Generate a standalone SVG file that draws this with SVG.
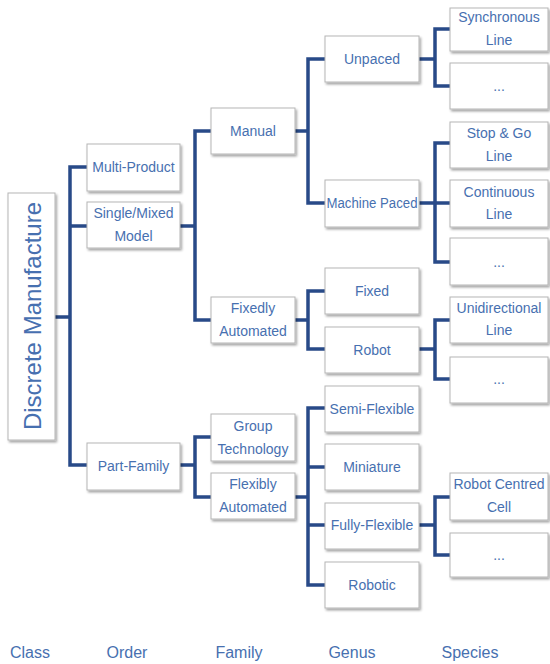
<svg xmlns="http://www.w3.org/2000/svg" width="550" height="664" viewBox="0 0 550 664">
<defs>
<filter id="sh" x="-10%" y="-10%" width="125%" height="130%">
<feDropShadow dx="1.5" dy="2" stdDeviation="1.2" flood-color="#000" flood-opacity="0.35"/>
</filter>
<style>
.b{fill:#fff;stroke:#b5b5b5;stroke-width:1;filter:url(#sh)}
.t{font-family:"Liberation Sans",Arial,sans-serif;font-size:14px;fill:#4770b0;text-anchor:middle}
.big{font-size:24px}
.ax{font-size:16px}
.c{fill:none;stroke:#284a88;stroke-width:3.5;stroke-linejoin:miter}
</style>
</defs>
<rect width="550" height="664" fill="#fff"/>
<g id="connectors">
<path class="c" d="M55,317H70M87,167H70V465H87M70,226H87"/>
<path class="c" d="M180,226H195M211,131H195V320H211"/>
<path class="c" d="M295,131H308M325,59H308V203H325"/>
<path class="c" d="M295,320H308M325,291H308V349H325"/>
<path class="c" d="M180,465H195M211,437H195V497H211"/>
<path class="c" d="M295,497H308M325,408H308V585H325M308,467H325M308,525H325"/>
<path class="c" d="M419,59H435M450,29H435V86H450"/>
<path class="c" d="M419,203H450M450,143H435V262H450"/>
<path class="c" d="M419,349H435M450,320H435V379H450"/>
<path class="c" d="M419,525H435M450,497H435V555H450"/>
</g>
<g id="discrete"><rect class="b" x="8" y="193" width="47" height="247"/><text class="t big" transform="translate(41,316) rotate(-90)">Discrete Manufacture</text></g>
<g id="multiproduct"><rect class="b" x="87" y="144" width="93" height="47"/><text class="t" x="133.5" y="172">Multi-Product</text></g>
<g id="singlemixed"><rect class="b" x="87" y="202" width="93" height="46"/><text class="t" x="133.5" y="218">Single/Mixed</text><text class="t" x="133.5" y="241">Model</text></g>
<g id="partfamily"><rect class="b" x="87" y="443" width="93" height="47"/><text class="t" x="133.5" y="471">Part-Family</text></g>
<g id="manual"><rect class="b" x="211" y="108" width="84" height="46"/><text class="t" x="253" y="136">Manual</text></g>
<g id="fixedly"><rect class="b" x="211" y="297" width="84" height="46"/><text class="t" x="253" y="313">Fixedly</text><text class="t" x="253" y="336">Automated</text></g>
<g id="grouptech"><rect class="b" x="211" y="414" width="84" height="47"/><text class="t" x="253" y="431">Group</text><text class="t" x="253" y="454">Technology</text></g>
<g id="flexibly"><rect class="b" x="211" y="473" width="84" height="46"/><text class="t" x="253" y="489">Flexibly</text><text class="t" x="253" y="512">Automated</text></g>
<g id="unpaced"><rect class="b" x="325" y="36" width="94" height="46"/><text class="t" x="372" y="64">Unpaced</text></g>
<g id="machinepaced"><rect class="b" x="325" y="180" width="94" height="47"/><text class="t" x="372" y="208" textLength="91" lengthAdjust="spacingAndGlyphs">Machine Paced</text></g>
<g id="fixed"><rect class="b" x="325" y="268" width="94" height="46"/><text class="t" x="372" y="296">Fixed</text></g>
<g id="robot"><rect class="b" x="325" y="327" width="94" height="46"/><text class="t" x="372" y="355">Robot</text></g>
<g id="semiflexible"><rect class="b" x="325" y="386" width="94" height="46"/><text class="t" x="372" y="414">Semi-Flexible</text></g>
<g id="miniature"><rect class="b" x="325" y="444" width="94" height="46"/><text class="t" x="372" y="472">Miniature</text></g>
<g id="fullyflexible"><rect class="b" x="325" y="503" width="94" height="46"/><text class="t" x="372" y="530">Fully-Flexible</text></g>
<g id="robotic"><rect class="b" x="325" y="562" width="94" height="46"/><text class="t" x="372" y="590">Robotic</text></g>
<g id="synchronous"><rect class="b" x="450" y="8" width="98" height="43"/><text class="t" x="499" y="22">Synchronous</text><text class="t" x="499" y="45">Line</text></g>
<g id="etc1"><rect class="b" x="450" y="63" width="98" height="46"/><text class="t" x="499" y="91">...</text></g>
<g id="stopgo"><rect class="b" x="450" y="122" width="98" height="46"/><text class="t" x="499" y="138">Stop &amp; Go</text><text class="t" x="499" y="161">Line</text></g>
<g id="continuous"><rect class="b" x="450" y="180" width="98" height="47"/><text class="t" x="499" y="197">Continuous</text><text class="t" x="499" y="219">Line</text></g>
<g id="etc2"><rect class="b" x="450" y="238" width="98" height="47"/><text class="t" x="499" y="267">...</text></g>
<g id="unidirectional"><rect class="b" x="450" y="297" width="98" height="46"/><text class="t" x="499" y="313">Unidirectional</text><text class="t" x="499" y="335">Line</text></g>
<g id="etc3"><rect class="b" x="450" y="357" width="98" height="46"/><text class="t" x="499" y="384">...</text></g>
<g id="robotcentred"><rect class="b" x="450" y="473" width="98" height="47"/><text class="t" x="499" y="489">Robot Centred</text><text class="t" x="499" y="512">Cell</text></g>
<g id="etc4"><rect class="b" x="450" y="533" width="98" height="44"/><text class="t" x="499" y="560">...</text></g>
<g id="axis">
<text class="t ax" x="30" y="658">Class</text>
<text class="t ax" x="127" y="658">Order</text>
<text class="t ax" x="239" y="658">Family</text>
<text class="t ax" x="352" y="658">Genus</text>
<text class="t ax" x="470" y="658">Species</text>
</g>
</svg>
